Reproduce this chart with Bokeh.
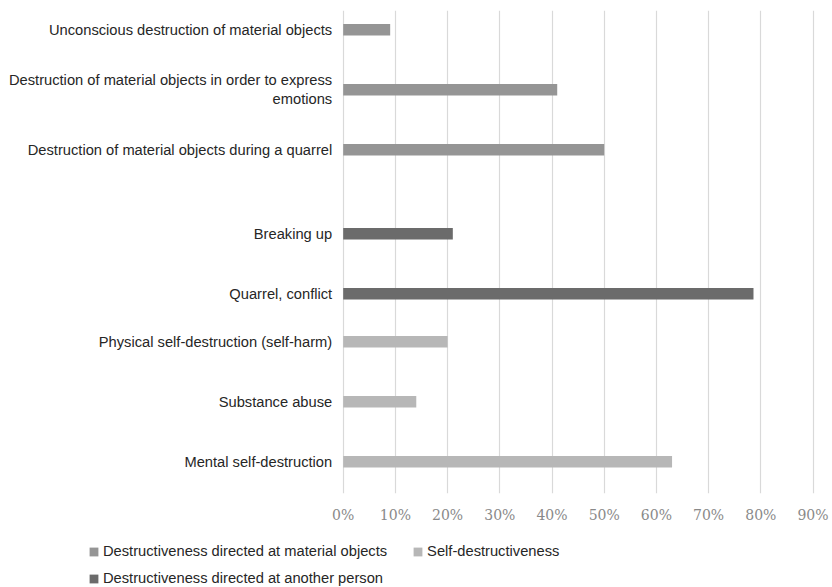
from bokeh.plotting import figure
from bokeh.models import (ColumnDataSource, Range1d, FixedTicker, NumeralTickFormatter,
                          Legend, LegendItem)
from bokeh.core.properties import value
from bokeh.layouts import column
from bokeh.embed import file_html
from bokeh.resources import INLINE

# ---------------- data ----------------
categories = [
    "Unconscious destruction of material objects",
    "Destruction of material objects in order to express\nemotions",
    "Destruction of material objects during a quarrel",
    "Breaking up",
    "Quarrel, conflict",
    "Physical self-destruction (self-harm)",
    "Substance abuse",
    "Mental self-destruction",
]
series_names = [
    "Destructiveness directed at material objects",
    "Self-destructiveness",
    "Destructiveness directed at another person",
]
material = [0.09, 0.41, 0.50, None, None, None, None, None]
self_destr = [None, None, None, None, None, 0.20, 0.14, 0.63]
person = [None, None, None, 0.21, 0.786, None, None, None]
tick_values = [0.0, 0.1, 0.2, 0.3, 0.4, 0.5, 0.6, 0.7, 0.8, 0.9]

# ---------------- style ----------------
colors = ["#959595", "#b7b7b7", "#6b6b6b"]
offsets = [-0.2, 0.0, 0.2]        # slot of each series within a category
bar_h = 0.19
label_color = "#262626"
sans = "Liberation Sans"
fsize = "14.7px"

series_values = [material, self_destr, person]

W = 832
px_per_unit = 522.0
zero_px = 342.7
p = figure(width=W, height=530,
           x_range=Range1d(-zero_px / px_per_unit, (W - zero_px) / px_per_unit),
           y_range=Range1d(7.53, -0.52),
           output_backend="svg", toolbar_location=None,
           y_axis_location=None,
           min_border_left=0, min_border_right=0,
           min_border_top=10, min_border_bottom=37)
p.outline_line_color = None
p.background_fill_color = "white"
p.ygrid.visible = False
p.xgrid.grid_line_color = "#d9d9d9"
p.xgrid.grid_line_width = 1.2
p.xaxis.ticker = FixedTicker(ticks=tick_values)
p.xaxis.formatter = NumeralTickFormatter(format="0%")
p.xaxis.axis_line_color = None
p.xaxis.major_tick_line_color = None
p.xaxis.minor_tick_line_color = None
p.xaxis.major_label_standoff = 7
p.xaxis.major_label_text_font = "DejaVu Serif"
p.xaxis.major_label_text_font_size = "14px"
p.xaxis.major_label_text_color = "#898989"

label_y, label_text = [], []
sources = []
for s, (vals, off, col) in enumerate(zip(series_values, offsets, colors)):
    ys, xs = [], []
    for i, v in enumerate(vals):
        if v is not None:
            ys.append(i + off)
            xs.append(v)
            label_y.append(i + off)
            label_text.append(categories[i])
    src = ColumnDataSource(dict(y=ys, right=xs))
    sources.append(src)
    p.hbar(y="y", right="right", left=0, height=bar_h, source=src,
           fill_color=col, line_color=None)

lab_src = ColumnDataSource(dict(x=[0] * len(label_y), y=label_y, text=label_text))
p.text(x="x", y="y", text="text", source=lab_src,
       x_offset=-11, text_align="right", text_baseline="middle",
       text_font=value(sans), text_font_size=fsize, text_color=label_color,
       text_line_height=1.2)

# ---------------- legend strip ----------------
lf = figure(width=W, height=57, output_backend="svg", toolbar_location=None,
            x_range=Range1d(0, 1), y_range=Range1d(100, 101),
            x_axis_location=None, y_axis_location=None, min_border=0)
lf.grid.visible = False
lf.outline_line_color = None

lrends = []
for src, col in zip(sources, colors):
    lrends.append(lf.hbar(y="y", right="right", left=0, height=bar_h, source=src,
                          fill_color=col, line_color=None))


def make_legend(items, loc):
    return Legend(items=items, orientation="horizontal", location=loc,
                  padding=0, margin=0, spacing=25,
                  glyph_width=11, glyph_height=11, label_standoff=4,
                  label_height=11,
                  label_text_font=sans, label_text_font_size=fsize,
                  label_text_color=label_color,
                  border_line_color=None, background_fill_alpha=0)


leg1 = make_legend([LegendItem(label=series_names[0], renderers=[lrends[0]]),
                    LegendItem(label=series_names[1], renderers=[lrends[1]])], (88, 28))
leg2 = make_legend([LegendItem(label=series_names[2], renderers=[lrends[2]])], (88, 1))
lf.add_layout(leg1)
lf.add_layout(leg2)

open("out.html", "w").write(file_html(column(p, lf, spacing=0), INLINE))
